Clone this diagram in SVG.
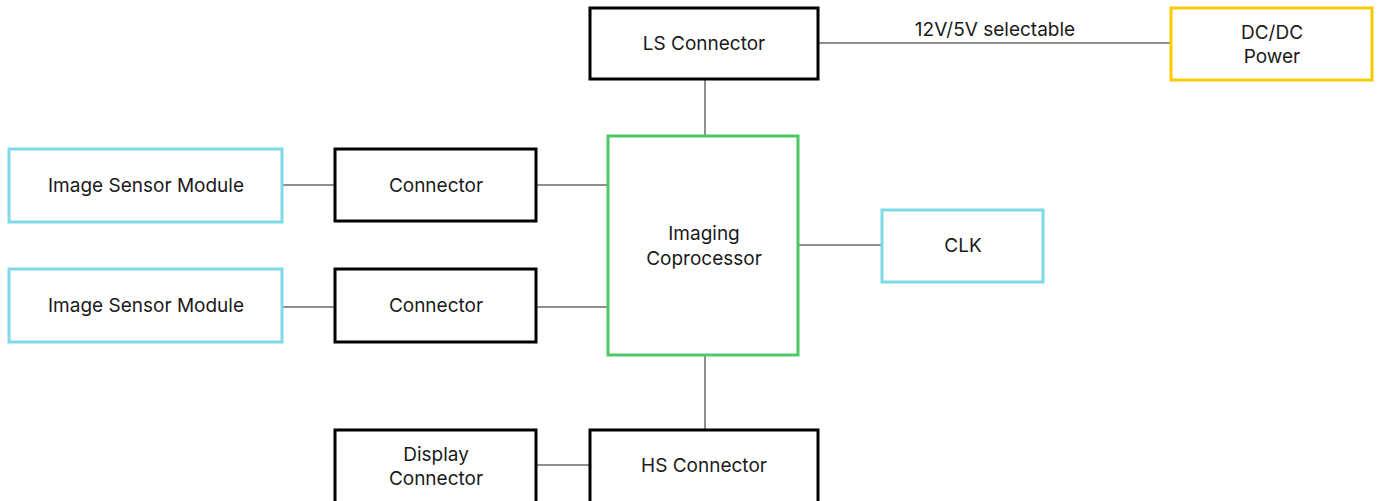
<svg xmlns="http://www.w3.org/2000/svg" width="1377" height="501" viewBox="0 0 1377 501">
<style>
.bk{fill:#fff;stroke:#000;stroke-width:3}
.cy{fill:#fff;stroke:#7fd9e8;stroke-width:3}
.gr{fill:#fff;stroke:#4ec766;stroke-width:3}
.ye{fill:#fff;stroke:#f6cc00;stroke-width:3}
.ln{stroke:#8f8f8f;stroke-width:2;fill:none}
text{font-family:Inter,"Liberation Sans",sans-serif;font-size:19px;fill:#1a1a1a;text-anchor:middle}
</style>
<rect width="1377" height="501" fill="#fff"/>
<g id="connectors">
<line class="ln" x1="705" y1="80" x2="705" y2="136"/>
<line class="ln" x1="819" y1="43" x2="1171" y2="43"/>
<line class="ln" x1="283" y1="185" x2="335" y2="185"/>
<line class="ln" x1="537" y1="185" x2="608" y2="185"/>
<line class="ln" x1="283" y1="307" x2="335" y2="307"/>
<line class="ln" x1="537" y1="307" x2="608" y2="307"/>
<line class="ln" x1="799" y1="245" x2="882" y2="245"/>
<line class="ln" x1="705" y1="356" x2="705" y2="429"/>
<line class="ln" x1="537" y1="465" x2="589" y2="465"/>
<text x="995" y="36">12V/5V selectable</text>
</g>
<g id="ls"><rect class="bk" x="590" y="8" width="228" height="71"/><text x="704" y="50">LS Connector</text></g>
<g id="dcdc"><rect class="ye" x="1171" y="8" width="201" height="72"/><text x="1272" y="39">DC/DC</text><text x="1272" y="63">Power</text></g>
<g id="ism1"><rect class="cy" x="9" y="149" width="273" height="73"/><text x="146" y="192">Image Sensor Module</text></g>
<g id="ism2"><rect class="cy" x="9" y="269" width="273" height="73"/><text x="146" y="312">Image Sensor Module</text></g>
<g id="con1"><rect class="bk" x="335" y="149" width="201" height="72"/><text x="436" y="192">Connector</text></g>
<g id="con2"><rect class="bk" x="335" y="269" width="201" height="73"/><text x="436" y="312">Connector</text></g>
<g id="ic"><rect class="gr" x="608" y="136" width="190" height="219"/><text x="704" y="240">Imaging</text><text x="704" y="265">Coprocessor</text></g>
<g id="clk"><rect class="cy" x="882" y="210" width="161" height="72"/><text x="963" y="252">CLK</text></g>
<g id="disp"><rect class="bk" x="335" y="430" width="201" height="80"/><text x="436" y="461">Display</text><text x="436" y="485">Connector</text></g>
<g id="hs"><rect class="bk" x="590" y="430" width="228" height="80"/><text x="704" y="472">HS Connector</text></g>
</svg>
